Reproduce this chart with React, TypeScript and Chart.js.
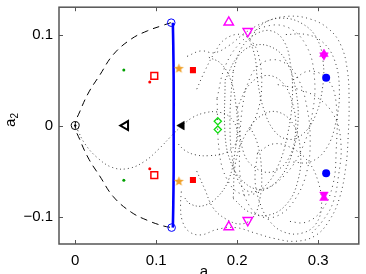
import React, { useEffect, useRef } from 'react';
import { Chart, registerables } from 'chart.js';
Chart.register(...registerables);

type P = [number, number];

const xTicks = [0, 0.1, 0.2, 0.3];
const yTicks = [-0.1, 0, 0.1];
const xTitle = 'a';
const yTitleMain = 'a';
const yTitleSub = '2';

const separatrix: P[] = [[0.118,0.113],[0.108,0.110],[0.089,0.104],[0.069,0.095],[0.047,0.078],[0.030,0.055],[0.017,0.037],[0.006,0.016],[0,0],[0.006,-0.016],[0.017,-0.037],[0.030,-0.055],[0.047,-0.078],[0.069,-0.095],[0.089,-0.104],[0.108,-0.110],[0.119,-0.112]];
const blueBranch: P[] = [[0.1205,0.113],[0.121,0.09],[0.1215,0.05],[0.1215,0],[0.1215,-0.05],[0.121,-0.09],[0.1205,-0.112]];

const blueOpen: P[] = [[0.1185,0.113],[0.119,-0.112]];
const originPt: P[] = [[0,0]];
const greenDots: P[] = [[0.060,0.061],[0.060,-0.060]];
const redDots: P[] = [[0.092,0.048],[0.092,-0.0475]];
const redOpenSq: P[] = [[0.0976,0.0547],[0.0976,-0.0543]];
const orangeStars: P[] = [[0.128,0.0626],[0.128,-0.0613]];
const redFilledSq: P[] = [[0.1453,0.0609],[0.1453,-0.0598]];
const triLeftOpen: P[] = [[0.062,0]];
const triLeftFilled: P[] = [[0.1315,0]];
const greenDiamonds: P[] = [[0.176,0.0047],[0.176,-0.0043]];
const magentaUpOpen: P[] = [[0.1895,0.1134],[0.1895,-0.1113]];
const magentaDownOpen: P[] = [[0.213,0.1036],[0.213,-0.104]];
const magentaStarUp: P[] = [[0.307,0.0785],[0.307,-0.0795]];
const magentaStarDown: P[] = [[0.307,0.0772],[0.307,-0.0757]];
const blueFilled: P[] = [[0.3097,0.0525],[0.3097,-0.0522]];

const loop1: P[] = [[0.003,-0.005],[0.012,-0.020],[0.027,-0.035],[0.046,-0.046],[0.066,-0.047],[0.086,-0.039],[0.104,-0.025],[0.118,-0.012],[0.132,0.000],[0.145,0.009],[0.160,0.014],[0.175,0.015],[0.190,0.010],[0.200,-0.005],[0.198,-0.020],[0.185,-0.030],[0.165,-0.033],[0.148,-0.032],[0.135,-0.027],[0.127,-0.020]];
const loop2: P[] = [[0.138,0.076],[0.155,0.082],[0.172,0.080],[0.190,0.088],[0.210,0.102],[0.235,0.114],[0.262,0.120],[0.290,0.117],[0.313,0.106],[0.328,0.088],[0.336,0.060],[0.338,0.025],[0.337,-0.010],[0.334,-0.045],[0.326,-0.080],[0.313,-0.105],[0.296,-0.121],[0.272,-0.127],[0.246,-0.124],[0.222,-0.118],[0.198,-0.112],[0.175,-0.114],[0.155,-0.120],[0.140,-0.116],[0.132,-0.104],[0.130,-0.088],[0.131,-0.072]];
const loop3: P[] = [[0.165,0.075],[0.180,0.068],[0.192,0.050],[0.198,0.025],[0.200,0.000],[0.197,-0.030],[0.190,-0.058],[0.176,-0.078],[0.158,-0.088],[0.142,-0.086],[0.134,-0.078]];
const loop4: P[] = [[0.195,0.060],[0.205,0.085],[0.222,0.100],[0.242,0.104],[0.258,0.092],[0.266,0.065],[0.268,0.030],[0.262,-0.010],[0.250,-0.045],[0.232,-0.068],[0.213,-0.072],[0.200,-0.058],[0.193,-0.030],[0.191,0.000],[0.192,0.030],[0.195,0.060]];
const loop5: P[] = [[0.210,0.040],[0.222,0.062],[0.240,0.072],[0.260,0.068],[0.276,0.050],[0.286,0.020],[0.290,-0.015],[0.286,-0.050],[0.272,-0.080],[0.252,-0.098],[0.230,-0.100],[0.213,-0.085],[0.204,-0.058],[0.203,-0.025],[0.205,0.010],[0.210,0.040]];
const loop6: P[] = [[0.215,0.095],[0.232,0.112],[0.255,0.118],[0.280,0.112],[0.298,0.096],[0.306,0.070],[0.305,0.040],[0.296,0.010],[0.280,-0.010],[0.262,-0.015],[0.245,-0.005],[0.232,0.020],[0.225,0.050],[0.222,0.075],[0.215,0.095]];
const loop7: P[] = [[0.225,-0.030],[0.245,-0.020],[0.268,-0.025],[0.288,-0.040],[0.300,-0.062],[0.304,-0.088],[0.297,-0.108],[0.280,-0.118],[0.258,-0.117],[0.240,-0.105],[0.228,-0.085],[0.222,-0.060],[0.225,-0.030]];
const loop8: P[] = [[0.250,0.045],[0.275,0.040],[0.300,0.030],[0.320,0.010],[0.328,-0.020],[0.325,-0.055],[0.318,-0.085],[0.305,-0.105],[0.290,-0.120]];
const loop9: P[] = [[0.150,-0.050],[0.160,-0.070],[0.170,-0.090],[0.185,-0.102],[0.205,-0.108],[0.220,-0.100],[0.228,-0.080],[0.230,-0.050],[0.225,-0.020],[0.215,0.000]];
const loop10: P[] = [[0.150,0.040],[0.160,0.060],[0.172,0.080],[0.185,0.095],[0.205,0.100],[0.220,0.090],[0.228,0.070],[0.230,0.040],[0.225,0.015],[0.215,-0.005]];
const loop11: P[] = [[0.185,0.050],[0.200,0.075],[0.220,0.088],[0.245,0.085],[0.262,0.068],[0.272,0.040],[0.275,0.005],[0.268,-0.030],[0.252,-0.058],[0.230,-0.070],[0.208,-0.062],[0.192,-0.040],[0.185,-0.010],[0.185,0.050]];
const loop12: P[] = [[0.200,0.020],[0.215,0.045],[0.235,0.055],[0.255,0.048],[0.268,0.025],[0.272,-0.005],[0.264,-0.035],[0.246,-0.050],[0.225,-0.048],[0.208,-0.030],[0.200,0.020]];
const loop13: P[] = [[0.175,0.030],[0.185,0.065],[0.205,0.092],[0.232,0.108],[0.262,0.108],[0.285,0.088],[0.295,0.055],[0.293,0.015],[0.280,-0.025],[0.258,-0.055],[0.230,-0.072],[0.205,-0.075],[0.188,-0.060],[0.178,-0.030],[0.175,0.030]];
const loop14: P[] = [[0.195,-0.080],[0.215,-0.095],[0.240,-0.098],[0.262,-0.085],[0.275,-0.060],[0.278,-0.030],[0.270,0.000],[0.250,0.015],[0.228,0.010],[0.210,-0.010],[0.198,-0.040],[0.195,-0.080]];
const loop15: P[] = [[0.260,0.100],[0.285,0.100],[0.305,0.092],[0.320,0.072],[0.326,0.040],[0.322,0.005],[0.310,-0.025],[0.290,-0.040],[0.268,-0.040]];
const loop16: P[] = [[0.268,0.050],[0.290,0.060],[0.312,0.050],[0.322,0.025],[0.322,-0.030],[0.318,-0.065],[0.305,-0.092],[0.285,-0.106],[0.262,-0.105]];
const loops: P[][] = [loop1, loop2, loop3, loop4, loop5, loop6, loop7, loop8, loop9, loop10, loop11, loop12, loop13, loop14, loop15, loop16];
const dashes = [[1, 3], [1, 3.5], [1, 2.5], [1, 3], [1, 4], [1, 2.8], [1, 3.3], [1, 3.8]];

const FONT = '"Liberation Sans", Arial, sans-serif';
const pts = (a: P[]) => a.map(([x, y]) => ({ x, y }));
const fmt = (v: number) => (v === 0 ? '0' : (v < 0 ? '\u2212' : '') + Math.abs(v).toFixed(1));

function makeStar(color: string, R: number, r: number) {
  const c = document.createElement('canvas');
  const s = Math.ceil(R * 2 + 2);
  c.width = s; c.height = s;
  const g = c.getContext('2d')!;
  g.fillStyle = color;
  g.beginPath();
  for (let i = 0; i < 10; i++) {
    const ang = -Math.PI / 2 + (i * Math.PI) / 5;
    const rad = i % 2 === 0 ? R : r;
    const px = s / 2 + rad * Math.cos(ang);
    const py = s / 2 + rad * Math.sin(ang);
    if (i === 0) g.moveTo(px, py); else g.lineTo(px, py);
  }
  g.closePath();
  g.fill();
  return c;
}

const framePlugin = {
  id: 'frame',
  afterDatasetsDraw(chart: any) {
    const { ctx, chartArea, scales } = chart;
    const { left, right, top, bottom } = chartArea;
    ctx.save();
    ctx.strokeStyle = '#555';
    ctx.lineWidth = 1.5;
    ctx.strokeRect(left, top, right - left, bottom - top);
    ctx.lineWidth = 1;
    ctx.beginPath();
    xTicks.forEach((v) => {
      const px = Math.round(scales.x.getPixelForValue(v)) + 0.5;
      ctx.moveTo(px, bottom); ctx.lineTo(px, bottom - 4);
      ctx.moveTo(px, top); ctx.lineTo(px, top + 4);
    });
    yTicks.forEach((v) => {
      const py = Math.round(scales.y.getPixelForValue(v)) + 0.5;
      ctx.moveTo(left, py); ctx.lineTo(left + 4, py);
      ctx.moveTo(right, py); ctx.lineTo(right - 4, py);
    });
    ctx.stroke();
    ctx.fillStyle = '#000';
    ctx.font = '15px ' + FONT;
    ctx.textAlign = 'center';
    ctx.textBaseline = 'alphabetic';
    ctx.fillText(xTitle, (left + right) / 2 - 5, 276);
    ctx.translate(15, 120);
    ctx.rotate(-Math.PI / 2);
    ctx.textAlign = 'left';
    ctx.fillText(yTitleMain, -7, 0);
    ctx.font = '10px ' + FONT;
    ctx.fillText(yTitleSub, 1.5, 3);
    ctx.restore();
  },
};

export default function App() {
  const ref = useRef<HTMLCanvasElement>(null);
  useEffect(() => {
    if (!ref.current) return;
    const star = makeStar('#f0a028', 5.2, 2.2);
    const mk = (data: P[], o: any) => ({ data: pts(data), showLine: false, ...o });
    const datasets: any[] = [
      mk(blueFilled, { pointStyle: 'circle', pointRadius: 4, backgroundColor: '#0000ff', borderColor: '#0000ff', borderWidth: 0 }),
      mk(magentaStarUp, { pointStyle: 'triangle', pointRadius: 5, backgroundColor: '#ff00ff', borderColor: '#ff00ff', borderWidth: 0.5 }),
      mk(magentaStarDown, { pointStyle: 'triangle', pointRotation: 180, pointRadius: 5, backgroundColor: '#ff00ff', borderColor: '#ff00ff', borderWidth: 0.5 }),
      mk(magentaUpOpen, { pointStyle: 'triangle', pointRadius: 5.5, backgroundColor: 'rgba(0,0,0,0)', borderColor: '#ff00ff', borderWidth: 1.4 }),
      mk(magentaDownOpen, { pointStyle: 'triangle', pointRotation: 180, pointRadius: 5.5, backgroundColor: 'rgba(0,0,0,0)', borderColor: '#ff00ff', borderWidth: 1.4 }),
      mk(greenDiamonds, { pointStyle: 'rectRot', pointRadius: 3.6, backgroundColor: 'rgba(0,0,0,0)', borderColor: '#11dd11', borderWidth: 1.3 }),
      mk(triLeftFilled, { pointStyle: 'triangle', pointRotation: -90, pointRadius: 5, backgroundColor: '#000', borderColor: '#000', borderWidth: 0.5 }),
      mk(triLeftOpen, { pointStyle: 'triangle', pointRotation: -90, pointRadius: 5.2, backgroundColor: 'rgba(0,0,0,0)', borderColor: '#000', borderWidth: 2 }),
      mk(redFilledSq, { pointStyle: 'rect', pointRadius: 4.3, backgroundColor: '#ff0000', borderColor: '#ff0000', borderWidth: 0 }),
      mk(orangeStars, { pointStyle: star, pointRadius: 5 }),
      mk(redOpenSq, { pointStyle: 'rect', pointRadius: 4.8, backgroundColor: 'rgba(0,0,0,0)', borderColor: '#ff0000', borderWidth: 1.5 }),
      mk(redDots, { pointStyle: 'circle', pointRadius: 1.5, backgroundColor: '#ff0000', borderWidth: 0 }),
      mk(greenDots, { pointStyle: 'circle', pointRadius: 1.5, backgroundColor: '#00a000', borderWidth: 0 }),
      mk(originPt, { pointStyle: 'circle', pointRadius: 1.2, backgroundColor: '#000', borderWidth: 0 }),
      mk(originPt, { pointStyle: 'circle', pointRadius: 4, backgroundColor: 'rgba(0,0,0,0)', borderColor: '#000', borderWidth: 1 }),
      mk(blueOpen, { pointStyle: 'circle', pointRadius: 3.8, backgroundColor: 'rgba(0,0,0,0)', borderColor: '#0000ff', borderWidth: 1 }),
      { data: pts(blueBranch), showLine: true, pointRadius: 0, borderColor: '#0000ff', borderWidth: 2.6, tension: 0.3 },
      { data: pts(separatrix), showLine: true, pointRadius: 0, borderColor: '#000', borderWidth: 1, borderDash: [7, 5], tension: 0.4 },
      ...loops.map((l, i) => ({ data: pts(l), showLine: true, pointRadius: 0, borderColor: 'rgba(30,30,30,0.85)', borderWidth: 1, borderDash: dashes[i % dashes.length], tension: 0.4 })),
    ];
    const tickFont = { family: FONT, size: 15 };
    const chart = new Chart(ref.current, {
      type: 'scatter',
      data: { datasets },
      options: {
        animation: false,
        responsive: false,
        devicePixelRatio: 1,
        layout: { padding: { top: 3, right: 5, left: 0, bottom: 0 } },
        plugins: { legend: { display: false }, tooltip: { enabled: false } },
        scales: {
          x: {
            type: 'linear', min: -0.02, max: 0.35,
            afterBuildTicks: (s: any) => { s.ticks = xTicks.map((v) => ({ value: v })); },
            afterFit: (s: any) => { s.height = 30; s.paddingLeft = 0; s.paddingRight = 0; },
            grid: { display: false, drawTicks: false },
            border: { display: false },
            ticks: { padding: 8, color: '#000', font: tickFont, maxRotation: 0, autoSkip: false, callback: (v: any) => fmt(Number(v)) },
          },
          y: {
            type: 'linear', min: -0.13, max: 0.13,
            afterBuildTicks: (s: any) => { s.ticks = yTicks.map((v) => ({ value: v })); },
            afterFit: (s: any) => { s.width = 59; s.paddingTop = 0; s.paddingBottom = 0; },
            grid: { display: false, drawTicks: false },
            border: { display: false },
            ticks: { padding: 6, color: '#000', font: tickFont, autoSkip: false, callback: (v: any) => fmt(Number(v)) },
          },
        },
      } as any,
      plugins: [framePlugin],
    });
    return () => chart.destroy();
  }, []);
  return (
    <div style={{ position: 'absolute', left: 0, top: 0, width: 366, height: 274, background: '#fff' }}>
      <canvas ref={ref} width={366} height={274} style={{ display: 'block' }} />
    </div>
  );
}
